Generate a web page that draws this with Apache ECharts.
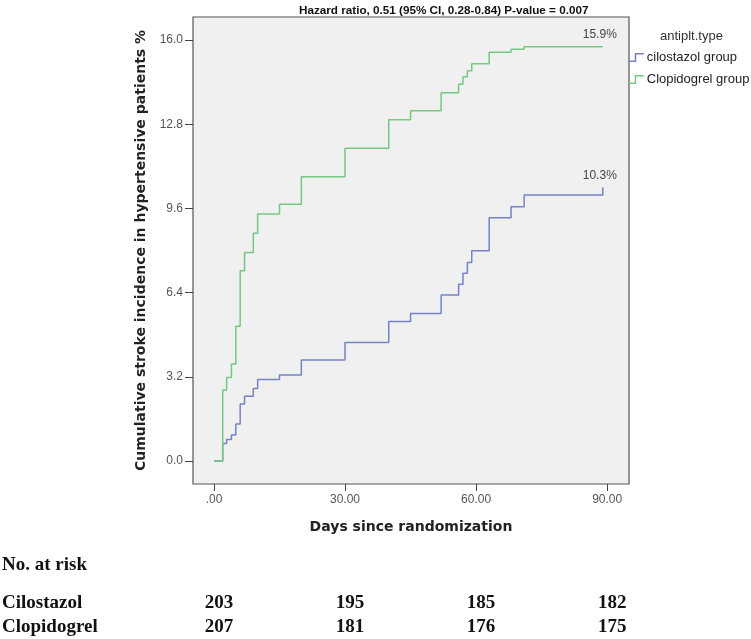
<!DOCTYPE html>
<html><head><meta charset="utf-8">
<script src="https://cdn.jsdelivr.net/npm/echarts@6/dist/echarts.min.js"></script>
<style>html,body{margin:0;padding:0;background:#fff}#c{width:751px;height:639px}</style>
</head><body><div id="c"></div>
<script>
// ---- data ----
const titleText = 'Hazard ratio, 0.51 (95% CI, 0.28-0.84) P-value = 0.007';
const groupNames = ['cilostazol group', 'Clopidogrel group'];
const cilostazolDays = [0, 2.0, 2.9, 4.0, 5.0, 6.0, 7.0, 9.0, 10.0, 15.0, 20.0, 30.0, 40.0, 45.0, 52.0, 56.0, 57.0, 58.0, 59.0, 63.0, 68.0, 71.0, 89.0];
const cilostazolVals = [0, 0.67, 0.82, 0.99, 1.41, 2.17, 2.47, 2.76, 3.10, 3.27, 3.84, 4.51, 5.31, 5.61, 6.31, 6.72, 7.14, 7.55, 8.00, 9.25, 9.67, 10.11, 10.40];
const clopidogrelDays = [0, 2.0, 2.9, 4.0, 5.0, 6.0, 7.0, 9.0, 10.0, 15.0, 20.0, 30.0, 40.0, 45.0, 52.0, 56.0, 57.0, 58.0, 59.0, 63.0, 68.0, 71.0, 89.0];
const clopidogrelVals = [0, 2.70, 3.18, 3.69, 5.13, 7.24, 7.93, 8.66, 9.39, 9.76, 10.81, 11.89, 12.97, 13.32, 14.00, 14.32, 14.61, 14.84, 15.10, 15.54, 15.65, 15.75, 15.75];
const endLabels = ['10.3%', '15.9%'];
const xTicks = [0, 30, 60, 90];
const xTickLabels = ['.00', '30.00', '60.00', '90.00'];
const yTicks = [0, 3.2, 6.4, 9.6, 12.8, 16.0];
const yTickLabels = ['0.0', '3.2', '6.4', '9.6', '12.8', '16.0'];
const riskDays = [0, 30, 60, 90];
const riskCilostazol = [203, 195, 185, 182];
const riskClopidogrel = [207, 181, 176, 175];
const riskRowNames = ['Cilostazol', 'Clopidogrel'];
const colors = ['#7482c8', '#74c980'];

const pairs = (xs, ys) => xs.map((x, i) => [x, ys[i]]);
const stepIcon = 'path://M0,10 L9,10 L9,0 L20,0';

const chart = echarts.init(document.getElementById('c'));
const option = {
  animation: false,
  backgroundColor: '#ffffff',
  color: colors,
  title: [
    { text: titleText, left: 294, top: 0,
      textStyle: { fontFamily: 'Liberation Sans Narrow, Arial Narrow, Liberation Sans, Arial', fontSize: 11.7, fontWeight: 'bold', color: '#111' } },
    { text: 'antiplt.type', left: 655, top: 25,
      textStyle: { fontFamily: 'Liberation Sans, Arial', fontSize: 13, fontWeight: 'normal', color: '#333' } }
  ],
  legend: {
    orient: 'vertical', left: 623, top: 46,
    itemWidth: 15, itemHeight: 8, itemGap: 9,
    textStyle: { fontFamily: 'Liberation Sans, Arial', fontSize: 13, color: '#222', padding: [0, 0, 0, -2] },
    data: groupNames.map((n, i) => ({ name: n, icon: stepIcon,
      itemStyle: { color: 'rgba(0,0,0,0)', borderColor: colors[i], borderWidth: 1.5 } }))
  },
  grid: { left: 193, right: 122, top: 17, bottom: 155, show: true,
    backgroundColor: '#f0f0f0', borderColor: '#555', borderWidth: 1.2 },
  xAxis: {
    type: 'value', min: -4.8, max: 95,
    name: 'Days since randomization', nameLocation: 'middle', nameGap: 36,
    nameTextStyle: { fontFamily: 'DejaVu Sans', fontWeight: 'bold', fontSize: 14, color: '#222' },
    axisLine: { show: false, onZero: false },
    axisTick: { show: true, length: 7, inside: false, customValues: xTicks, lineStyle: { color: '#444' } },
    axisLabel: { customValues: xTicks, margin: 10, fontFamily: 'Liberation Sans, Arial', fontSize: 12, color: '#555',
      formatter: v => xTickLabels[xTicks.indexOf(v)] },
    splitLine: { show: false }
  },
  yAxis: {
    type: 'value', min: -0.87, max: 16.88,
    name: 'Cumulative stroke incidence in hypertensive patients %', nameLocation: 'middle', nameGap: 44,
    nameTextStyle: { fontFamily: 'DejaVu Sans', fontWeight: 'bold', fontSize: 14, color: '#222' },
    axisLine: { show: false, onZero: false },
    axisTick: { show: true, length: 8, customValues: yTicks, lineStyle: { color: '#444' } },
    axisLabel: { customValues: yTicks, margin: 10, fontFamily: 'Liberation Sans, Arial', fontSize: 12, color: '#555',
      formatter: v => { const i = yTicks.findIndex(t => Math.abs(t - v) < 1e-6); return i >= 0 ? yTickLabels[i] : ''; } },
    splitLine: { show: false }
  },
  series: [
    { name: groupNames[0], type: 'line', step: 'end', showSymbol: false, symbol: 'none',
      lineStyle: { width: 1.5, color: colors[0] }, data: pairs(cilostazolDays, cilostazolVals), z: 2 },
    { name: groupNames[1], type: 'line', step: 'end', showSymbol: false, symbol: 'none',
      lineStyle: { width: 1.5, color: colors[1] }, data: pairs(clopidogrelDays, clopidogrelVals), z: 3 }
  ]
};
chart.setOption(option);

// annotations & risk table positioned through the chart's own scales
const graphics = [];
const ends = [[cilostazolDays, cilostazolVals], [clopidogrelDays, clopidogrelVals]];
ends.forEach(([d, v], i) => {
  const p = chart.convertToPixel({ gridIndex: 0 }, [d[d.length - 1], v[v.length - 1]]);
  graphics.push({ type: 'text', x: p[0] - 3, y: p[1] - 6,
    style: { text: endLabels[i], textAlign: 'center', textVerticalAlign: 'bottom',
      font: '12px "Liberation Sans", Arial', fill: '#444' } });
});
const serif = 'bold 19px "Liberation Serif", "Times New Roman", serif';
graphics.push({ type: 'text', x: 2, y: 565, style: { text: 'No. at risk', font: serif, fill: '#111', textVerticalAlign: 'middle' } });
[riskCilostazol, riskClopidogrel].forEach((row, r) => {
  const y = 603 + r * 24;
  graphics.push({ type: 'text', x: 2, y, style: { text: riskRowNames[r], font: serif, fill: '#111', textVerticalAlign: 'middle' } });
  row.forEach((n, k) => {
    const px = chart.convertToPixel({ gridIndex: 0 }, [riskDays[k], 0])[0];
    graphics.push({ type: 'text', x: px + 5, y, style: { text: String(n), font: serif, fill: '#111', textAlign: 'center', textVerticalAlign: 'middle' } });
  });
});
chart.setOption({ graphic: graphics });
</script>
</body></html>
